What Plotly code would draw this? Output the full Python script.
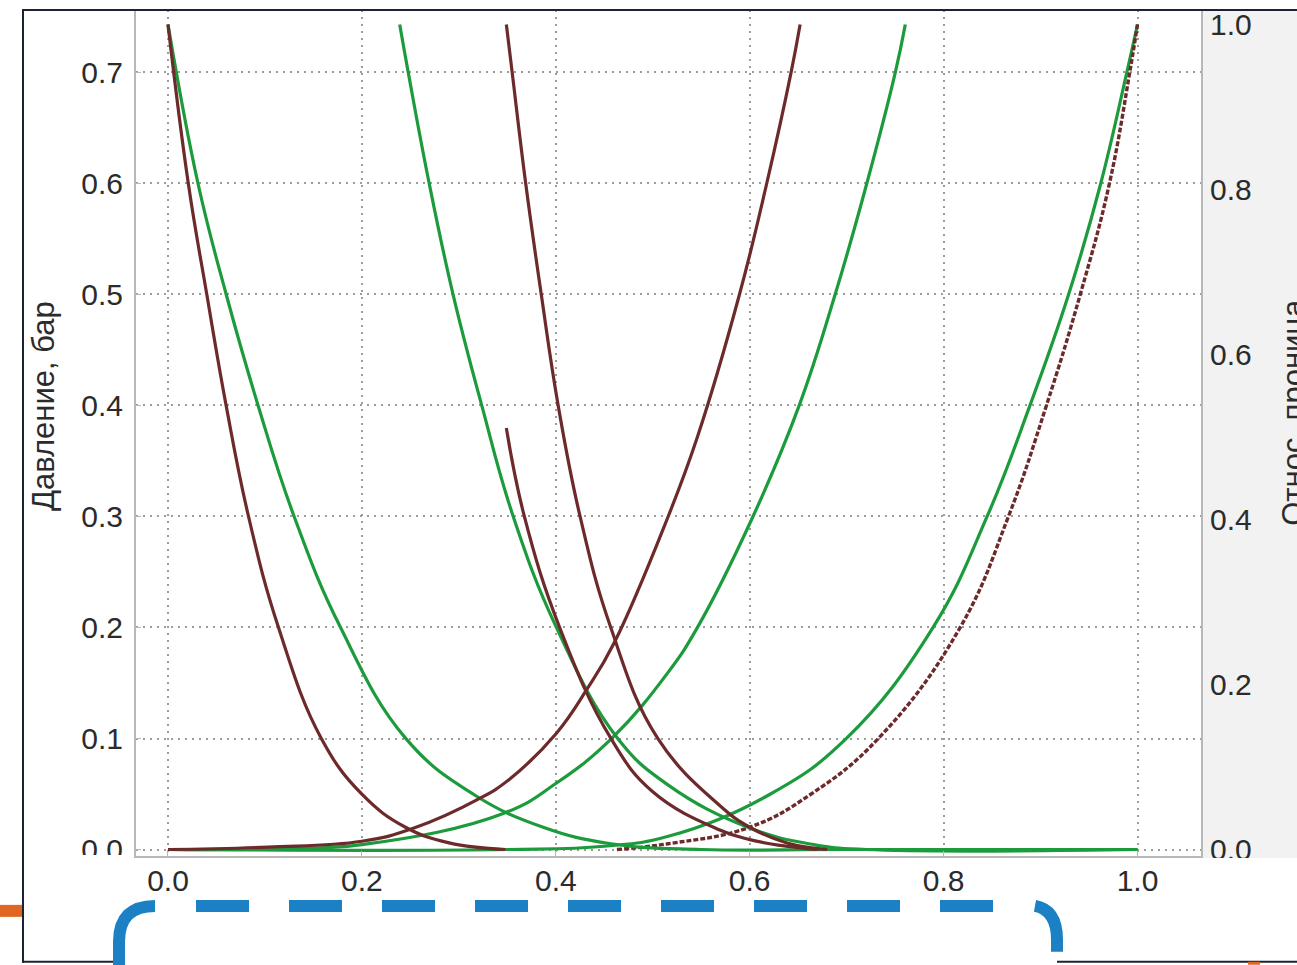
import plotly.graph_objects as go

# ---------------- data ----------------
x_ticks = [0.0, 0.2, 0.4, 0.6, 0.8, 1.0]
y_left_ticks = [0.0, 0.1, 0.2, 0.3, 0.4, 0.5, 0.6, 0.7]
y_right_ticks = [0.0, 0.2, 0.4, 0.6, 0.8, 1.0]

left_title = "Давление, бар"
right_title = "Относ. проница"

# brown, descending from x=0
brown_a_x = [0.0, 0.021, 0.040, 0.060, 0.083, 0.114, 0.158, 0.2, 0.245, 0.29, 0.348]
brown_a_y = [1.0, 0.807, 0.673, 0.538, 0.404, 0.269, 0.135, 0.067, 0.027, 0.008, 0.0]

# green, descending from x=0
green_b_x = [0.0, 0.031, 0.060, 0.093, 0.130, 0.178, 0.245, 0.315, 0.387, 0.457, 0.55, 0.7, 1.0]
green_b_y = [1.0, 0.807, 0.673, 0.538, 0.404, 0.269, 0.135, 0.067, 0.027, 0.007, 0.0, 0.0, 0.0]

# green, descending from x=0.24
green_c_x = [0.239, 0.2478, 0.2695, 0.294, 0.3237, 0.356, 0.4007, 0.4637, 0.516, 0.6, 0.666, 0.72, 1.0]
green_c_y = [1.0, 0.942, 0.807, 0.673, 0.538, 0.404, 0.269, 0.135, 0.078, 0.026, 0.006, 0.0, 0.0]

# brown, rising to x=0.65
brown_e_x = [0.0, 0.103, 0.2, 0.2537, 0.32, 0.352, 0.4007, 0.432, 0.46, 0.516, 0.5458, 0.5895, 0.6175, 0.6427, 0.652]
brown_e_y = [0.0, 0.003, 0.010, 0.026, 0.061, 0.085, 0.141, 0.194, 0.250, 0.404, 0.499, 0.673, 0.807, 0.942, 1.0]

# green, rising to x=0.76
green_f_x = [0.0, 0.103, 0.2, 0.3465, 0.4, 0.458, 0.516, 0.546, 0.6035, 0.651, 0.6882, 0.7207, 0.7502, 0.7605]
green_f_y = [0.0, 0.001, 0.006, 0.044, 0.080, 0.135, 0.215, 0.269, 0.404, 0.538, 0.673, 0.807, 0.942, 1.0]

# green, rising to x=1.0
green_g_x = [0.0, 0.35, 0.45, 0.516, 0.621, 0.7, 0.789, 0.845, 0.889, 0.929, 0.962, 0.989, 1.0]
green_g_y = [0.0, 0.0, 0.004, 0.016, 0.067, 0.135, 0.269, 0.404, 0.538, 0.673, 0.807, 0.942, 1.0]

# brown dotted, rising to x=1.0
brown_h_x = [0.463, 0.516, 0.6, 0.663, 0.733, 0.817, 0.867, 0.906, 0.941, 0.971, 0.992, 1.0]
brown_h_y = [0.0, 0.007, 0.027, 0.067, 0.135, 0.269, 0.404, 0.538, 0.673, 0.807, 0.942, 1.0]

# brown, descending from x=0.35 (top)
brown_i_x = [0.349, 0.355, 0.369, 0.385, 0.4025, 0.425, 0.4567, 0.505, 0.5685, 0.6, 0.6385, 0.68]
brown_i_y = [1.0, 0.942, 0.807, 0.673, 0.538, 0.404, 0.269, 0.135, 0.054, 0.027, 0.008, 0.0]

# brown, descending from x=0.35 (middle)
brown_j_x = [0.349, 0.3675, 0.404, 0.4567, 0.5, 0.5685, 0.6, 0.6315, 0.67]
brown_j_y = [0.511, 0.404, 0.269, 0.135, 0.070, 0.024, 0.012, 0.005, 0.0]

# ---------------- styling ----------------
BROWN = "#6d2a2b"
GREEN = "#1c9b3d"
FONT = "Liberation Sans, Arial, sans-serif"
W, H = 1297, 965
ML, MR, MT, MB = 136, 96, 8, 109
PW, PH = W - ML - MR, H - MT - MB


def px(x):
    return (x - ML) / PW


def py(y):
    return (H - MB - y) / PH


fig = go.Figure()


def add(xs, ys, color, dash="solid", width=3.2):
    fig.add_trace(go.Scatter(
        x=xs, y=ys, yaxis="y2", mode="lines",
        line=dict(color=color, width=width, dash=dash, shape="spline", smoothing=1.2),
        showlegend=False, hoverinfo="skip"))


add(green_g_x, green_g_y, GREEN)
add(brown_h_x, brown_h_y, BROWN, dash="5px,2px", width=3.4)
add(green_b_x, green_b_y, GREEN)
add(green_c_x, green_c_y, GREEN)
add(green_f_x, green_f_y, GREEN)
add(brown_a_x, brown_a_y, BROWN)
add(brown_e_x, brown_e_y, BROWN)
add(brown_i_x, brown_i_y, BROWN)
add(brown_j_x, brown_j_y, BROWN)

# invisible trace to activate the left axis
fig.add_trace(go.Scatter(x=[0], y=[0], mode="markers", marker=dict(opacity=0),
                         showlegend=False, hoverinfo="skip"))

tickfont = dict(family=FONT, size=30, color="#2b2b2b")
GRID = "#9c9c9c"
AXLINE = "#b8b8b8"

fig.update_layout(
    width=W, height=H,
    margin=dict(l=ML, r=MR, t=MT, b=MB, pad=0),
    paper_bgcolor="white", plot_bgcolor="white",
    xaxis=dict(range=[-0.033, 1.0655], tickvals=x_ticks, tickformat=".1f",
               showgrid=True, griddash="2px,5px", gridcolor=GRID, gridwidth=1.6,
               showline=True, linecolor=AXLINE, linewidth=2, zeroline=False,
               ticks="inside", ticklen=5, tickcolor=AXLINE,
               tickfont=tickfont, ticklabelstandoff=-3),
    yaxis=dict(range=[-0.00584, 0.7562], tickvals=y_left_ticks, tickformat=".1f",
               showgrid=True, griddash="2px,5px", gridcolor=GRID, gridwidth=1.6,
               showline=True, linecolor=AXLINE, linewidth=2, zeroline=False,
               ticks="inside", ticklen=5, tickcolor=AXLINE,
               tickfont=tickfont, ticklabelstandoff=5),
    yaxis2=dict(range=[-0.00786, 1.0176], tickvals=y_right_ticks, tickformat=".1f",
                overlaying="y", side="right", showgrid=False,
                showline=True, linecolor=AXLINE, linewidth=2, zeroline=False,
                ticks="", tickfont=tickfont, ticklabelstandoff=1),
)

shapes = []
# grey panel on the right
shapes.append(dict(type="rect", xref="paper", yref="paper", layer="below",
                   x0=px(1202), x1=px(1297), y0=py(858), y1=py(8),
                   fillcolor="#f2f2f2", line=dict(width=0)))
# white strips that cut the bottom of the 0.0 labels
shapes.append(dict(type="rect", xref="paper", yref="paper", layer="above",
                   x0=px(50), x1=px(134), y0=py(868), y1=py(855),
                   fillcolor="white", line=dict(width=0)))
shapes.append(dict(type="rect", xref="paper", yref="paper", layer="above",
                   x0=px(1203), x1=px(1297), y0=py(876), y1=py(858),
                   fillcolor="white", line=dict(width=0)))
# dark frame
DARK = "#1b2233"
shapes.append(dict(type="line", xref="paper", yref="paper", layer="above",
                   x0=px(22), x1=px(1297), y0=py(8), y1=py(8), line=dict(color=DARK, width=2)))
shapes.append(dict(type="line", xref="paper", yref="paper", layer="above",
                   x0=px(23), x1=px(23), y0=py(8), y1=py(963), line=dict(color=DARK, width=2)))
shapes.append(dict(type="line", xref="paper", yref="paper", layer="above",
                   x0=px(22), x1=px(118), y0=py(962), y1=py(962), line=dict(color=DARK, width=2)))
shapes.append(dict(type="line", xref="paper", yref="paper", layer="above",
                   x0=px(1057), x1=px(1297), y0=py(962), y1=py(962), line=dict(color=DARK, width=2)))
# orange marks
ORANGE = "#e0671f"
shapes.append(dict(type="rect", xref="paper", yref="paper", layer="above",
                   x0=px(0), x1=px(22), y0=py(917), y1=py(905),
                   fillcolor=ORANGE, line=dict(width=0)))
shapes.append(dict(type="rect", xref="paper", yref="paper", layer="above",
                   x0=px(1248), x1=px(1260), y0=py(965), y1=py(962),
                   fillcolor=ORANGE, line=dict(width=0)))
# blue dashed rounded bracket
BLUE = "#1b80c4"


def P(x, y):
    return f"{px(x):.6f},{py(y):.6f}"


shapes.append(dict(type="path", xref="paper", yref="paper", layer="above",
                   path=f"M {P(119, 966)} L {P(119, 942)} Q {P(119, 906)} {P(155, 906)}",
                   line=dict(color=BLUE, width=12)))
shapes.append(dict(type="line", xref="paper", yref="paper", layer="above",
                   x0=px(196), x1=px(996), y0=py(906), y1=py(906),
                   line=dict(color=BLUE, width=12, dash="53px,40px")))
shapes.append(dict(type="path", xref="paper", yref="paper", layer="above",
                   path=f"M {P(1035, 906)} Q {P(1057, 910)} {P(1057, 940)} L {P(1057, 952)}",
                   line=dict(color=BLUE, width=12)))
fig.update_layout(shapes=shapes)

fig.add_annotation(text=left_title, xref="paper", yref="paper",
                   x=px(43), y=py(405), textangle=-90, showarrow=False,
                   xanchor="center", yanchor="middle",
                   font=dict(family=FONT, size=31, color="#2b2b2b"))
fig.add_annotation(text=right_title, xref="paper", yref="paper",
                   x=px(1274), y=py(527), textangle=-90, showarrow=False,
                   xanchor="left", yanchor="bottom",
                   font=dict(family=FONT, size=31, color="#2b2b2b"))

fig.write_html("out.html", config={"displayModeBar": False},
               post_script="document.body.style.margin='0px';")
